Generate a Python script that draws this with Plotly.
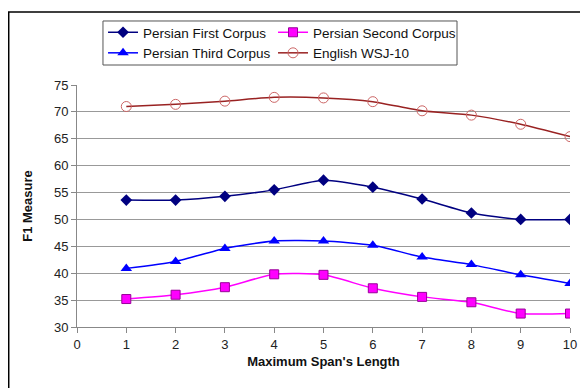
import plotly.graph_objects as go

span = [1, 2, 3, 4, 5, 6, 7, 8, 9, 10]
persian_first = [53.6, 53.6, 54.3, 55.5, 57.3, 56.0, 53.8, 51.2, 50.0, 50.0]
persian_second = [35.2, 36.0, 37.4, 39.8, 39.7, 37.2, 35.6, 34.6, 32.5, 32.5]
persian_third = [40.9, 42.2, 44.6, 46.0, 46.0, 45.2, 43.0, 41.6, 39.7, 38.1]
english_wsj10 = [71.0, 71.4, 72.0, 72.7, 72.6, 71.9, 70.2, 69.4, 67.7, 65.4]
x_ticks = [0, 1, 2, 3, 4, 5, 6, 7, 8, 9, 10]
y_ticks = [30, 35, 40, 45, 50, 55, 60, 65, 70, 75]

fig = go.Figure()
fig.add_trace(go.Scatter(x=span, y=persian_first, name="Persian First Corpus", legend="legend",
                         mode="lines+markers", line=dict(color="#000080", width=1.5, shape="spline", smoothing=0.6),
                         marker=dict(symbol="diamond", size=9, color="#000080")))
fig.add_trace(go.Scatter(x=span, y=persian_second, name="Persian Second Corpus", legend="legend2",
                         mode="lines+markers", line=dict(color="#FF00FF", width=1.5, shape="spline", smoothing=0.6),
                         marker=dict(symbol="square", size=9, color="#FF00FF", line=dict(color="#990099", width=1))))
fig.add_trace(go.Scatter(x=span, y=persian_third, name="Persian Third Corpus", legend="legend",
                         mode="lines+markers", line=dict(color="#0000FF", width=1.5, shape="spline", smoothing=0.6),
                         marker=dict(symbol="triangle-up", size=10, color="#0000FF")))
fig.add_trace(go.Scatter(x=span, y=english_wsj10, name="English WSJ-10", legend="legend2",
                         mode="lines+markers", line=dict(color="#992222", width=1.5, shape="spline", smoothing=0.6),
                         marker=dict(symbol="circle-open", size=10, color="#CC6666", line=dict(width=1))))

leg_common = dict(orientation="v", yanchor="top", xanchor="left", borderwidth=0,
                  bgcolor="rgba(0,0,0,0)", font=dict(size=13.5, color="#111111"),
                  tracegroupgap=0, itemwidth=30, traceorder="normal")

fig.update_layout(
    width=580, height=380,
    margin=dict(l=69, r=18, t=77, b=61, autoexpand=False),
    paper_bgcolor="white", plot_bgcolor="white",
    font=dict(family="Liberation Sans, Arial, sans-serif", size=12, color="#111111"),
    showlegend=True,
    legend=dict(x=0.0528, y=1.281, **leg_common),
    legend2=dict(x=0.3976, y=1.281, **leg_common),
    xaxis=dict(range=[0, 10], tickvals=x_ticks, showgrid=False, showline=True,
               linecolor="#888888", linewidth=1, ticks="outside", ticklen=5, tickcolor="#888888",
               tickfont=dict(size=13, color="#222222"), zeroline=False,
               title=dict(text="<b>Maximum Span's Length</b>", font=dict(size=13), standoff=6)),
    yaxis=dict(range=[30, 75], tickvals=y_ticks, showgrid=True, gridcolor="#999999", gridwidth=1,
               showline=True, linecolor="#888888", linewidth=1, ticks="outside", ticklen=5,
               tickcolor="#888888", tickfont=dict(size=13, color="#222222"), zeroline=False,
               title=dict(text="<b>F1 Measure</b>", font=dict(size=13), standoff=18)),
    shapes=[
        dict(type="rect", xref="paper", yref="paper", x0=-0.1385, x1=1.1, y0=-0.35, y1=1.3017,
             line=dict(color="black", width=1.5), fillcolor="rgba(0,0,0,0)", layer="below"),
        dict(type="rect", xref="paper", yref="paper", x0=0.0527, x1=0.7708, y0=1.0826, y1=1.2645,
             line=dict(color="#555555", width=1), fillcolor="rgba(0,0,0,0)", layer="above"),
    ],
)

fig.write_html("out.html")
